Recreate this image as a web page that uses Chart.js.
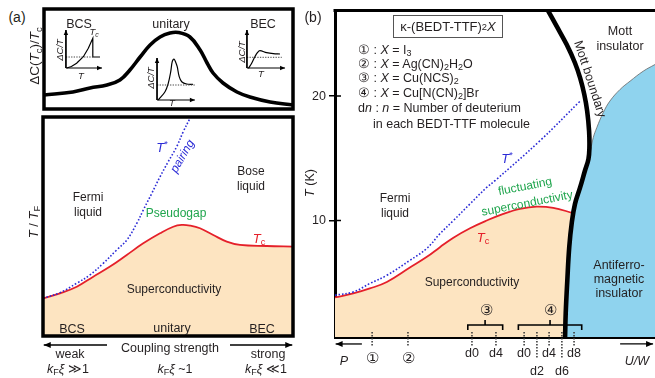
<!DOCTYPE html>
<html>
<head>
<meta charset="utf-8">
<title>BCS-BEC crossover and κ-(BEDT-TTF)2X phase diagram</title>
<script src="https://cdn.jsdelivr.net/npm/chart.js@4.4.1/dist/chart.umd.min.js"></script>
<style>
  html, body { margin:0; padding:0; background:#fff; }
  body { position:relative; width:655px; height:378px; overflow:hidden;
         font-family:"Liberation Sans", Arial, Helvetica, sans-serif; color:#231f20; }
  canvas { position:absolute; }
  .t { position:absolute; transform:translate(-50%,-50%); white-space:nowrap; font-size:12px; line-height:1; }
  .l { position:absolute; transform:translateY(-50%); white-space:nowrap; font-size:12.5px; line-height:1; }
  .m { text-align:center; line-height:15px; }
  .r90 { transform:translate(-50%,-50%) rotate(-90deg); }
  sub { font-size:72%; vertical-align:-0.28em; line-height:0; }
  sup { font-size:72%; vertical-align:0.45em; line-height:0; }
  .blue { color:#2b2bd6; } .red { color:#e5202a; } .green { color:#1fa54d; }
  .sm { font-size:9.5px; font-style:italic; }
  #kbox { position:absolute; left:393px; top:15px; width:108px; height:21px; border:1px solid #555;
          display:flex; align-items:center; justify-content:center; font-size:13px; }
</style>
</head>
<body>
<canvas id="cTop" width="257" height="108" style="left:40px;top:5px"></canvas>
<canvas id="cBot" width="258" height="265" style="left:39px;top:113px"></canvas>
<canvas id="cB" width="355" height="378" style="left:300px;top:0"></canvas>

<!-- (a) -->
<div class="t" style="left:17px;top:17px;font-size:14px">(a)</div>
<div class="t r90" style="left:35px;top:56px;font-size:13.5px">ΔC(<i>T</i><sub>c</sub>)/<i>T</i><sub>c</sub></div>
<div class="t" style="left:79px;top:24px;font-size:12.5px">BCS</div>
<div class="t" style="left:171px;top:24px;font-size:12.5px">unitary</div>
<div class="t" style="left:263px;top:24px;font-size:12.5px">BEC</div>
<div class="t sm" style="left:94px;top:32px">T<sub>c</sub></div>
<div class="t sm r90" style="left:60px;top:50px">ΔC/T</div>
<div class="t sm" style="left:81px;top:76px">T</div>
<div class="t sm r90" style="left:151px;top:78px">ΔC/T</div>
<div class="t sm" style="left:172px;top:103px">T</div>
<div class="t sm r90" style="left:242px;top:52px">ΔC/T</div>
<div class="t sm" style="left:261px;top:74px">T</div>

<div class="t r90" style="left:33px;top:222px;font-size:13px"><i>T</i> / <i>T</i><sub>F</sub></div>
<div class="t blue" style="left:162px;top:147px;font-size:13px"><i>T</i><sup>*</sup></div>
<div class="t blue" style="left:182px;top:156px;font-style:italic;transform:translate(-50%,-50%) rotate(-60deg)">pairing</div>
<div class="t m" style="left:88px;top:205px">Fermi<br>liquid</div>
<div class="t m" style="left:251px;top:179px">Bose<br>liquid</div>
<div class="t green" style="left:176px;top:213px">Pseudogap</div>
<div class="t red" style="left:259px;top:238px;font-size:13px"><i>T</i><sub>c</sub></div>
<div class="t" style="left:174px;top:289px">Superconductivity</div>
<div class="t" style="left:72px;top:329px;font-size:12.5px">BCS</div>
<div class="t" style="left:172px;top:328px;font-size:12.5px">unitary</div>
<div class="t" style="left:262px;top:329px;font-size:12.5px">BEC</div>
<div class="t" style="left:170px;top:348px;font-size:12.5px">Coupling strength</div>
<div class="t" style="left:70px;top:354px;font-size:12.5px">weak</div>
<div class="t" style="left:268px;top:354px;font-size:12.5px">strong</div>
<div class="t" style="left:68px;top:369px;font-size:12.5px"><i>k</i><sub>F</sub><i>ξ</i> ≫1</div>
<div class="t" style="left:175px;top:369px;font-size:12.5px"><i>k</i><sub>F</sub><i>ξ</i> ~1</div>
<div class="t" style="left:266px;top:369px;font-size:12.5px"><i>k</i><sub>F</sub><i>ξ</i> ≪1</div>

<!-- (b) -->
<div class="t" style="left:313px;top:17px;font-size:14px">(b)</div>
<div class="t r90" style="left:310px;top:183px;font-size:12.5px"><i>T</i> (K)</div>
<div id="kbox">κ-(BEDT-TTF)<sub>2</sub><i>X</i></div>
<div class="l" style="left:358px;top:50px">① : <i>X</i> = I<sub>3</sub></div>
<div class="l" style="left:358px;top:64px">② : <i>X</i> = Ag(CN)<sub>2</sub>H<sub>2</sub>O</div>
<div class="l" style="left:358px;top:78px">③ : <i>X</i> = Cu(NCS)<sub>2</sub></div>
<div class="l" style="left:358px;top:93px">④ : <i>X</i> = Cu[N(CN)<sub>2</sub>]Br</div>
<div class="l" style="left:358px;top:108px">d<i>n</i> : <i>n</i> = Number of deuterium</div>
<div class="l" style="left:373px;top:124px">in each BEDT-TTF molecule</div>
<div class="t m" style="left:620px;top:39px;font-size:12.5px">Mott<br>insulator</div>
<div class="t" style="left:590px;top:79px;font-size:12.5px;transform:translate(-50%,-50%) rotate(72deg)">Mott boundary</div>
<div class="t blue" style="left:507px;top:158px;font-size:13px"><i>T</i><sup>*</sup></div>
<div class="t green" style="left:525px;top:186px;transform:translate(-50%,-50%) rotate(-11deg)">fluctuating</div>
<div class="t green" style="left:527px;top:203px;transform:translate(-50%,-50%) rotate(-11deg)">superconductivity</div>
<div class="t m" style="left:395px;top:206px">Fermi<br>liquid</div>
<div class="t red" style="left:483px;top:237px;font-size:13px"><i>T</i><sub>c</sub></div>
<div class="t" style="left:472px;top:282px">Superconductivity</div>
<div class="t m" style="left:619px;top:279px;line-height:14px;font-size:12.5px">Antiferro-<br>magnetic<br>insulator</div>
<div class="t" style="left:486px;top:309px;font-size:15px">③</div>
<div class="t" style="left:550px;top:309px;font-size:15px">④</div>
<div class="t" style="left:372px;top:357px;font-size:15px">①</div>
<div class="t" style="left:408px;top:357px;font-size:15px">②</div>
<div class="t" style="left:472px;top:353px;font-size:12.5px">d0</div>
<div class="t" style="left:496px;top:353px;font-size:12.5px">d4</div>
<div class="t" style="left:524px;top:353px;font-size:12.5px">d0</div>
<div class="t" style="left:549px;top:353px;font-size:12.5px">d4</div>
<div class="t" style="left:574px;top:353px;font-size:12.5px">d8</div>
<div class="t" style="left:537px;top:371px;font-size:12.5px">d2</div>
<div class="t" style="left:562px;top:371px;font-size:12.5px">d6</div>
<div class="t" style="left:344px;top:361px;font-size:12.5px;font-style:italic">P</div>
<div class="t" style="left:637px;top:361px;font-size:12.5px;font-style:italic">U/W</div>

<script>
// ---- (a) upper panel: jump of C/T at Tc along the crossover (schematic units 0-100)
const couplingX = [0, 11.6, 18.5, 25.3, 30.5, 34.5, 38.6, 42.6, 46.6, 50.6, 54, 58.6, 62.7, 65.5, 67.9, 71.9, 77.5, 82.7, 90.8, 100];
const jumpC     = [14, 17, 21, 24, 29, 39, 52, 64, 72, 76, 76.5, 72, 59, 46, 36, 26, 17, 12, 7, 4];

// small insets: BCS, unitary, BEC
const insetOriginX = [8.8, 45.4, 81.5];
const insetOriginY = [41, 9, 41];
const insetEndX    = [23.3, 60.6, 96.8];
const insetEndY    = [79, 51, 79];
const normalLevel  = [52, 24, 51.7];
const normalEndX   = [19.6, 60.6, 95.5];
const bcsT = [9.1, 11, 13.1, 15.8, 17.8, 19.6, 19.6, 22.5];
const bcsC = [41, 42.5, 45.7, 52.3, 60.7, 70.7, 52, 52];
const uniT = [45.9, 48.6, 49.9, 50.9, 51.5, 52.2, 53, 53.5, 54.3, 55.3, 57.3, 59.8];
const uniC = [9, 17.3, 25.7, 37.3, 47.3, 50, 46, 42.3, 32.3, 27.3, 25, 24.7];
const becT = [82.1, 83.4, 84.7, 85.7, 86.7, 89.4, 92.1, 94.8];
const becC = [40.7, 45.7, 52.3, 56.3, 58.3, 56.3, 55.3, 55];

// ---- (a) lower panel: Tc and pairing T* (T/TF, schematic)
const tcX   = [0, 6.8, 13.5, 20.1, 26.8, 33.5, 40.1, 46.8, 52.1, 55.5, 58.8, 62.8, 68.1, 73.5, 78.8, 89.5, 100];
const tcY   = [17.2, 19.5, 22.5, 27.1, 31.7, 37, 42.3, 46.9, 49.9, 50.7, 50.4, 49.2, 46.1, 43.1, 41.6, 41.1, 40.8];
const pairX = [0, 6.8, 13.5, 18.8, 24.1, 29.5, 33.5, 37.5, 40.1, 43.5, 46.8, 50.1, 53.5, 56.1, 58.8];
const pairY = [17.2, 19.8, 24.1, 27.9, 33.2, 39.3, 43.8, 51.4, 57.5, 65.1, 72.7, 79.6, 86.5, 93.3, 99.4];
const couplingTailX = [25.6, 74.8];
const couplingHeadX = [0.3, 99.7];
const couplingArrowY = -4.1;

// ---- (b) κ-(BEDT-TTF)2X: T (K) vs U/W (arbitrary 0-100)
const yTicks = [10, 20];
const bTcX   = [0, 5.7, 10.9, 16.2, 23.4, 28.6, 32.8, 37, 42.2, 47.4, 52.6, 57.8, 63, 68.2, 74.4];
const bTc    = [3.82, 4.14, 4.54, 5.06, 6.22, 7.06, 7.86, 8.62, 9.38, 10, 10.54, 10.94, 11.12, 11.02, 10.6];
const bStarX = [0, 5.7, 10.9, 16.2, 23.4, 28.6, 32.8, 37, 42.2, 47.4, 50, 64, 76.6];
const bStarT = [4, 4.26, 4.94, 5.6, 6.8, 7.74, 8.94, 10, 11.34, 12.66, 13.2, 16.4, 19.6];
const mottX  = [71.9, 72.1, 72.6, 73.2, 74, 75, 76.6, 78.1, 79.2, 79.5, 79.4, 78.8, 77.9, 76.6, 75, 72.4, 69.3, 66.7, 65.6];
const mottT  = [0.64, 2.56, 5.2, 7.86, 9.84, 11.34, 12.66, 14, 14.94, 15.86, 17.2, 18.8, 20.14, 21.46, 22.66, 24.14, 25.6, 26.8, 27.3];
const afmX   = [71.9, 72.1, 72.6, 73.2, 74, 75, 76.6, 78.1, 79.2, 79.9, 80.7, 81.8, 83.8, 85.9, 89.1, 92.2, 96.3, 100];
const afmT   = [0.64, 2.56, 5.2, 7.86, 9.84, 11.34, 12.66, 14, 14.94, 15.7, 16.66, 17.46, 18.66, 19.6, 20.54, 21.2, 22, 22.54];
const bracketT  = [1.2, 1.6, 1.6, 2.0, 1.6, 1.6, 1.2];
const bracket3X = [41.5, 41.5, 46.9, 46.9, 46.9, 52.4, 52.4];
const bracket4X = [57.3, 57.3, 67.2, 67.2, 67.2, 77.1, 77.1];
const sampleX   = [11.6, 22.8, 42.8, 50.3, 59.1, 63.1, 66.9, 70.9, 74.7];
const sampleLow = [-0.16, -0.16, -0.16, -0.16, -0.16, -1.04, -0.16, -1.04, -0.16];
const sampleTop = 1.04;
const pArrowX  = [8.4, 0.2];
const uwArrowX = [89.1, 99.4];
const bArrowT  = 0.08;

const BLUE = '#2b2bd6', RED = '#e5202a', PEACH = '#fde4c1', SKY = '#8fd3ee';

Chart.defaults.font.family = '"Liberation Sans", Arial, Helvetica, sans-serif';
Chart.defaults.color = '#231f20';
Chart.defaults.animation = false;
Chart.defaults.events = [];
Chart.defaults.elements.point.radius = 0;
Chart.defaults.plugins.legend.display = false;
Chart.defaults.plugins.tooltip.enabled = false;

const pts = (xs, ys) => xs.map((x, i) => ({x, y: Array.isArray(ys) ? ys[i] : ys}));

function line(data, style) {
  return Object.assign({data, borderColor:'#000', borderWidth:1, tension:0, fill:false, pointRadius:0}, style);
}

// box / top rule around the plot area, optional inner tick stubs on y
const framePlugin = {
  id: 'frame',
  afterDatasetsDraw(chart, args, opts) {
    const a = chart.chartArea, ctx = chart.ctx, s = opts.sides || 'trbl';
    ctx.save();
    ctx.strokeStyle = '#000';
    ctx.lineWidth = opts.width || 3;
    ctx.lineCap = 'square';
    ctx.beginPath();
    if (s.includes('t')) { ctx.moveTo(a.left, a.top); ctx.lineTo(a.right, a.top); }
    if (s.includes('r')) { ctx.moveTo(a.right, a.top); ctx.lineTo(a.right, a.bottom); }
    if (s.includes('b')) { ctx.moveTo(a.right, a.bottom); ctx.lineTo(a.left, a.bottom); }
    if (s.includes('l')) { ctx.moveTo(a.left, a.bottom); ctx.lineTo(a.left, a.top); }
    ctx.stroke();
    if (opts.innerTicks) {
      const y = chart.scales.y;
      ctx.lineWidth = 1.5; ctx.lineCap = 'butt';
      ctx.beginPath();
      y.ticks.forEach(t => { const p = y.getPixelForValue(t.value); ctx.moveTo(a.left, p); ctx.lineTo(a.left + 6, p); });
      ctx.stroke();
    }
    ctx.restore();
  }
};

// filled arrowheads placed in data coordinates (tip at the point)
const arrowPlugin = {
  id: 'heads',
  afterDatasetsDraw(chart, args, opts) {
    const {ctx, scales} = chart;
    (opts.list || []).forEach(h => {
      const px = scales.x.getPixelForValue(h.x), py = scales.y.getPixelForValue(h.y);
      ctx.save();
      ctx.translate(px, py);
      ctx.rotate(h.angle * Math.PI / 180);
      ctx.beginPath();
      ctx.moveTo(0, 0); ctx.lineTo(-opts.length, -opts.half); ctx.lineTo(-opts.length, opts.half);
      ctx.closePath();
      ctx.fillStyle = '#000';
      ctx.fill();
      ctx.restore();
    });
  }
};

const hidden = (min, max) => ({type:'linear', display:false, min, max});

// ---------- (a) upper
const insetSets = [], insetHeads = [];
const insetCurves = [[bcsT, bcsC, 0], [uniT, uniC, 0.35], [becT, becC, 0.35]];
insetOriginX.forEach((ox, i) => {
  const oy = insetOriginY[i];
  insetSets.push(line(pts([ox, ox, insetEndX[i]], [insetEndY[i], oy, oy]), {borderWidth:1}));
  insetSets.push(line(pts([ox, normalEndX[i]], normalLevel[i]), {borderWidth:1, borderDash:[1.3, 1.3], borderColor:'#444'}));
  const [cx, cy, tn] = insetCurves[i];
  insetSets.push(line(pts(cx, cy), {borderWidth:1.2, tension:tn}));
  insetHeads.push({x:ox, y:insetEndY[i], angle:-90}, {x:insetEndX[i], y:oy, angle:0});
});

new Chart(document.getElementById('cTop'), {
  type: 'line',
  data: { datasets: [ line(pts(couplingX, jumpC), {borderWidth:3.6, tension:0.4}), ...insetSets ] },
  options: {
    responsive:false, layout:{padding:4},
    scales: { x: hidden(0, 100), y: hidden(0, 100) },
    plugins: { frame: {width:3.5}, heads: {list:insetHeads, length:5, half:2.2} }
  },
  plugins: [framePlugin, arrowPlugin]
});

// ---------- (a) lower
new Chart(document.getElementById('cBot'), {
  type: 'line',
  data: { datasets: [
    line(pts(pairX, pairY), {borderColor:BLUE, borderWidth:1.6, borderDash:[1.6, 1.9], tension:0.4, order:1}),
    line(pts(tcX, tcY), {borderColor:RED, borderWidth:1.8, tension:0.4, fill:'start', backgroundColor:PEACH, order:2}),
    line(pts([couplingTailX[0], couplingHeadX[0]], couplingArrowY), {borderWidth:1.3, clip:false, order:0}),
    line(pts([couplingTailX[1], couplingHeadX[1]], couplingArrowY), {borderWidth:1.3, clip:false, order:0})
  ]},
  options: {
    responsive:false, layout:{padding:{left:4, right:4, top:4, bottom:42}},
    scales: { x: hidden(0, 100), y: hidden(0, 100) },
    plugins: {
      frame: {width:3.5},
      heads: {length:7, half:3, list:[{x:couplingHeadX[0], y:couplingArrowY, angle:180},
                                      {x:couplingHeadX[1], y:couplingArrowY, angle:0}]}
    }
  },
  plugins: [framePlugin, arrowPlugin]
});

// ---------- (b)
const sampleData = [];
sampleX.forEach((x, i) => { sampleData.push({x, y:sampleTop}, {x, y:sampleLow[i]}, {x, y:null}); });

new Chart(document.getElementById('cB'), {
  type: 'line',
  data: { datasets: [
    line(pts(bracket3X, bracketT), {borderWidth:1.6, order:1}),
    line(pts(bracket4X, bracketT), {borderWidth:1.6, order:1}),
    line(sampleData, {borderWidth:1.5, borderDash:[1.5, 1.5], borderColor:'#333', clip:false, order:1}),
    line(pts(pArrowX, bArrowT), {borderWidth:1.3, clip:false, order:1}),
    line(pts(uwArrowX, bArrowT), {borderWidth:1.3, clip:false, order:1}),
    line(pts(mottX, mottT), {borderWidth:4.6, tension:0.4, order:3}),
    line(pts(afmX, afmT), {borderColor:'#666', borderWidth:0.8, tension:0.4, fill:'start', backgroundColor:SKY, order:4}),
    line(pts(bStarX, bStarT), {borderColor:BLUE, borderWidth:1.6, borderDash:[1.6, 1.9], tension:0.4, order:5}),
    line(pts(bTcX, bTc), {borderColor:RED, borderWidth:1.8, tension:0.4, fill:'start', backgroundColor:PEACH, order:6})
  ]},
  options: {
    responsive:false, layout:{padding:{left:0, right:0, top:9, bottom:41}},
    scales: {
      x: { type:'linear', min:0, max:100, z:1,
           afterFit: s => { s.height = 0; },
           border: {color:'#000', width:3}, grid: {display:false}, ticks: {display:false} },
      y: { type:'linear', position:'left', min:0.64, max:26.88, z:1,
           afterFit: s => { s.width = 35; },
           afterBuildTicks: s => { s.ticks = yTicks.map(v => ({value:v})); },
           border: {color:'#000', width:3},
           grid: {drawOnChartArea:false, drawTicks:true, tickLength:6, color:'#000', lineWidth:1.5},
           ticks: {color:'#231f20', font:{size:12.5}, padding:3} }
    },
    plugins: {
      frame: {width:3, sides:'t', innerTicks:true},
      heads: {length:7, half:3, list:[{x:pArrowX[1], y:bArrowT, angle:180},
                                      {x:uwArrowX[1], y:bArrowT, angle:0}]}
    }
  },
  plugins: [framePlugin, arrowPlugin]
});
</script>
</body>
</html>
